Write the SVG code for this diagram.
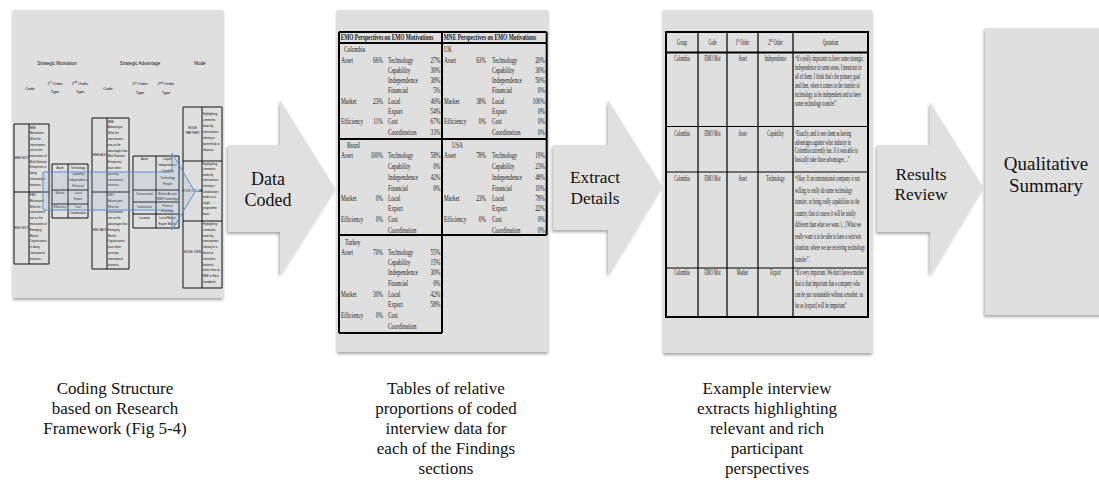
<svg xmlns="http://www.w3.org/2000/svg" width="1099" height="481" viewBox="0 0 1099 481">
  <defs>
    <filter id="shadow" x="-10%" y="-10%" width="120%" height="125%">
      <feDropShadow dx="0" dy="2" stdDeviation="1.4" flood-color="#000" flood-opacity="0.35"/>
    </filter>
    <filter id="shadowL" x="-10%" y="-10%" width="120%" height="125%">
      <feDropShadow dx="-1" dy="2" stdDeviation="1.4" flood-color="#000" flood-opacity="0.35"/>
    </filter>
  </defs>
  <style>
    .panel { fill: #dfdfdf; filter: url(#shadow); }
    .arrow { fill: #e0e0e0; filter: url(#shadowL); }
    .big { font-family: "Liberation Serif", "Times New Roman", serif; fill: #111; text-anchor: middle; }
    .cap { font-family: "Liberation Serif", "Times New Roman", serif; font-size: 17px; fill: #111; text-anchor: middle; }
    .sans { font-family: "Liberation Sans", Arial, sans-serif; fill: #111; }
    .h1 { font-size: 4.5px; text-anchor: middle; }
    .h2 { font-size: 4px; text-anchor: middle; }
    .c { font-size: 2.9px; text-anchor: middle; }
    .p { font-size: 2.75px; }
    .grid1 { fill: none; stroke: #111; stroke-width: 1; }
    .serif { font-family: "Liberation Serif", "Times New Roman", serif; fill: #1a1a1a; }
    .t2 { font-size: 8.3px; }
    .e { text-anchor: end; }
    .m { text-anchor: middle; }
    .b { font-weight: bold; }
    .t3 { font-size: 8.5px; }
    .thick { fill: none; stroke: #000; stroke-width: 2; }
    .thin { fill: none; stroke: #000; stroke-width: 1.2; }
  </style>

  <!-- block arrows between the stages -->
  <g id="connectors">
    <polygon class="arrow" points="228,145 280,145 280,100 335,188 280,275 280,232 228,232"/>
    <polygon class="arrow" points="553,145 608,145 608,100 662,186 608,275 608,230 553,230"/>
    <polygon class="arrow" points="877,145 930,145 930,102 983,187 930,275 930,232 877,232"/>
    <text class="big" font-size="18" x="268" y="185">Data</text>
    <text class="big" font-size="18" x="268" y="206">Coded</text>
    <text class="big" font-size="17.3" x="595" y="183">Extract</text>
    <text class="big" font-size="17.3" x="595" y="204">Details</text>
    <text class="big" font-size="17.3" x="921" y="180">Results</text>
    <text class="big" font-size="17.3" x="921" y="200">Review</text>
  </g>

  <!-- stage 1: coding structure -->
  <g id="coding-structure">
    <rect class="panel" x="13" y="10" width="210" height="288"/>
    <g class="sans">
      <text class="h1" x="57" y="64.5">Strategic Motivation</text>
      <text class="h1" x="140" y="64.5">Strategic Advantage</text>
      <text class="h1" x="200" y="64.5">Mode</text>
      <text class="h2" x="30" y="90">Code</text>
      <text class="h2" x="55" y="84.5">1<tspan font-size="2.6" dy="-1.2">st</tspan><tspan dy="1.2"> Order</tspan></text>
      <text class="h2" x="55" y="93">Type</text>
      <text class="h2" x="80" y="84.5">2<tspan font-size="2.6" dy="-1.2">nd</tspan><tspan dy="1.2"> Order</tspan></text>
      <text class="h2" x="80" y="93">Type</text>
      <text class="h2" x="108" y="90">Code</text>
      <text class="h2" x="140" y="85">1<tspan font-size="2.6" dy="-1.2">st</tspan><tspan dy="1.2"> Order</tspan></text>
      <text class="h2" x="140" y="94">Type</text>
      <text class="h2" x="166" y="85">2<tspan font-size="2.6" dy="-1.2">nd</tspan><tspan dy="1.2"> Order</tspan></text>
      <text class="h2" x="166" y="94">Type</text>
    </g>

    <!-- motivation codes -->
    <path class="grid1" d="M14,124 H49 V264 H14 Z M29,124 V264 M14,192 H49"/>
    <g class="sans">
      <text class="c" x="21.5" y="159">MNE MOT</text>
      <text class="c" x="21.5" y="229">EMO MOT</text>
      <text class="p">
        <tspan x="29.8" y="128.5">MNE</tspan><tspan x="29.8" y="134.2">Motivations:</tspan><tspan x="29.8" y="139.9">What the</tspan><tspan x="29.8" y="145.6">interviewees</tspan><tspan x="29.8" y="151.3">see as the</tspan><tspan x="29.8" y="157">motivations of</tspan><tspan x="29.8" y="162.7">Multi-National</tspan><tspan x="29.8" y="168.4">Enterprises in</tspan><tspan x="29.8" y="174.1">doing</tspan><tspan x="29.8" y="179.8">international</tspan><tspan x="29.8" y="185.5">business.</tspan>
      </text>
      <text class="p">
        <tspan x="29.8" y="196">EMO</tspan><tspan x="29.8" y="201.8">Motivations:</tspan><tspan x="29.8" y="207.6">What the</tspan><tspan x="29.8" y="213.4">interviewees</tspan><tspan x="29.8" y="219.2">see as the</tspan><tspan x="29.8" y="225">motivations of</tspan><tspan x="29.8" y="230.8">Emerging</tspan><tspan x="29.8" y="236.6">Market</tspan><tspan x="29.8" y="242.4">Organisations</tspan><tspan x="29.8" y="248.2">in doing</tspan><tspan x="29.8" y="254">international</tspan><tspan x="29.8" y="259.8">business.</tspan>
      </text>
    </g>

    <!-- motivation types -->
    <path class="grid1" d="M52,164 H88 V218 H52 Z M68,164 V218 M52,190 H88 M52,204 H88"/>
    <g class="sans">
      <text class="c" x="60" y="169">Asset</text>
      <text class="c" x="60" y="194">Market</text>
      <text class="c" x="60" y="208">Efficiency</text>
      <text class="c" x="78" y="169">Technology</text>
      <text class="c" x="78" y="174.5">Capability</text>
      <text class="c" x="78" y="180.5">Independence</text>
      <text class="c" x="78" y="186.5">Financial</text>
      <text class="c" x="78" y="194">Local</text>
      <text class="c" x="78" y="200">Export</text>
      <text class="c" x="78" y="208">Cost</text>
      <text class="c" x="78" y="214">Coordination</text>
    </g>

    <!-- advantage codes -->
    <path class="grid1" d="M92,118 H129 V269 H92 Z M107,118 V269 M92,192 H129"/>
    <g class="sans">
      <text class="c" x="99.5" y="156">MNE ADV</text>
      <text class="c" x="99.5" y="231">EMO ADV</text>
      <text class="p">
        <tspan x="107.8" y="122.5">MNE</tspan><tspan x="107.8" y="128.3">Advantages:</tspan><tspan x="107.8" y="134.1">What the</tspan><tspan x="107.8" y="139.9">interviewees</tspan><tspan x="107.8" y="145.7">see as the</tspan><tspan x="107.8" y="151.5">advantages that</tspan><tspan x="107.8" y="157.3">Multi-National</tspan><tspan x="107.8" y="163.1">Enterprises</tspan><tspan x="107.8" y="168.9">have when</tspan><tspan x="107.8" y="174.7">pursuing</tspan><tspan x="107.8" y="180.5">international</tspan><tspan x="107.8" y="186.3">business.</tspan>
      </text>
      <text class="p">
        <tspan x="107.8" y="196">EMO</tspan><tspan x="107.8" y="201.8">Advantages:</tspan><tspan x="107.8" y="207.6">What the</tspan><tspan x="107.8" y="213.4">interviewees</tspan><tspan x="107.8" y="219.2">see as the</tspan><tspan x="107.8" y="225">advantages that</tspan><tspan x="107.8" y="230.8">Emerging</tspan><tspan x="107.8" y="236.6">Market</tspan><tspan x="107.8" y="242.4">Organisations</tspan><tspan x="107.8" y="248.2">have when</tspan><tspan x="107.8" y="254">pursuing</tspan><tspan x="107.8" y="259.8">international</tspan><tspan x="107.8" y="265.6">business.</tspan>
      </text>
    </g>

    <!-- advantage types -->
    <path class="grid1" d="M133,156 H179 V228 H133 Z M156,156 V228 M133,190 H179 M133,202 H179 M133,214 H179"/>
    <g class="sans">
      <text class="c" x="144.5" y="160">Asset</text>
      <text class="c" x="144.5" y="195">Transactional</text>
      <text class="c" x="144.5" y="207.5">Institutional</text>
      <text class="c" x="144.5" y="218.5">Location</text>
      <text class="c" x="167.5" y="160">Capital</text>
      <text class="c" x="167.5" y="166">Independence</text>
      <text class="c" x="167.5" y="172">Capability</text>
      <text class="c" x="167.5" y="178.5">Technology</text>
      <text class="c" x="167.5" y="185">People</text>
      <text class="c" x="167.5" y="194.5">Market Access</text>
      <text class="c" x="167.5" y="200">MNE Knowledge</text>
      <text class="c" x="167.5" y="206.5">Political</text>
      <text class="c" x="167.5" y="211.8">Economic</text>
      <text class="c" x="167.5" y="218.5">Local Market</text>
      <text class="c" x="167.5" y="225">Export Market</text>
    </g>

    <!-- mode -->
    <path class="grid1" d="M183,107 H222 V288 H183 Z M202,107 V288 M183,161 H222 M183,221 H222"/>
    <g class="sans">
      <text class="c" x="192.5" y="129">MODE</text>
      <text class="c" x="192.5" y="133.5">PARTNER</text>
      <text class="c" x="192.5" y="192">MODE COLLAB</text>
      <text class="c" x="192.5" y="253">MODE OWN</text>
      <text class="p">
        <tspan x="202.8" y="115">Highlighting</tspan><tspan x="202.8" y="121">comments</tspan><tspan x="202.8" y="127">made by</tspan><tspan x="202.8" y="133">interviewees</tspan><tspan x="202.8" y="139">relating to</tspan><tspan x="202.8" y="145">partnership or</tspan><tspan x="202.8" y="151">alliances.</tspan>
      </text>
      <text class="p">
        <tspan x="202.8" y="164.5">Highlighting</tspan><tspan x="202.8" y="170.1">comments</tspan><tspan x="202.8" y="175.7">made by</tspan><tspan x="202.8" y="181.3">interviewees</tspan><tspan x="202.8" y="186.9">relating to</tspan><tspan x="202.8" y="192.5">collaboration</tspan><tspan x="202.8" y="198.1">made on a</tspan><tspan x="202.8" y="203.7">single</tspan><tspan x="202.8" y="209.3">programme</tspan><tspan x="202.8" y="214.9">basis.</tspan>
      </text>
      <text class="p">
        <tspan x="202.8" y="225">Highlighting</tspan><tspan x="202.8" y="230.8">comments</tspan><tspan x="202.8" y="236.6">made by</tspan><tspan x="202.8" y="242.4">interviewees</tspan><tspan x="202.8" y="248.2">relating to a</tspan><tspan x="202.8" y="254">desire to</tspan><tspan x="202.8" y="259.8">internalise</tspan><tspan x="202.8" y="265.6">business</tspan><tspan x="202.8" y="271.4">either from an</tspan><tspan x="202.8" y="277.2">MNE or Host</tspan><tspan x="202.8" y="283">standpoint.</tspan>
      </text>
    </g>

    <!-- overlaid flow arrow across the framework -->
    <polygon points="43,172 172,172 172,153 195,192 172,230 172,210 43,210" fill="#9fb4d4" fill-opacity="0.2" stroke="#5b8fd0" stroke-width="1"/>
  </g>

  <!-- stage 2: proportion tables -->
  <g id="proportion-tables">
    <rect class="panel" x="337" y="10" width="211" height="342"/>
    <path class="thick" d="M339,32 V333 M546.7,32 V235 M442,32 V333 M339,32 H546.7 M339,43 H546.7 M339,139 H546.7 M339,235 H546.7 M339,333 H442"/>
    <g class="serif t2" transform="matrix(0.65 0 0 1 338 0)">
      <text class="m b" x="75.4" y="40.5">EMO Perspectives on EMO Motivations</text>
      <text class="m b" x="233.8" y="40.5">MNE Perspectives on EMO Motivations</text>

      <!-- Colombia -->
      <text x="9.2" y="52.5">Colombia</text>
      <text x="4.6" y="63.5">Asset</text><text class="e" x="69.2" y="63.5">66%</text><text x="76.9" y="63.5">Technology</text><text class="e" x="157.7" y="63.5">27%</text>
      <text x="76.9" y="73.5">Capability</text><text class="e" x="157.7" y="73.5">30%</text>
      <text x="76.9" y="83.5">Independence</text><text class="e" x="157.7" y="83.5">38%</text>
      <text x="76.9" y="93.5">Financial</text><text class="e" x="157.7" y="93.5">5%</text>
      <text x="4.6" y="104.5">Market</text><text class="e" x="69.2" y="104.5">23%</text><text x="76.9" y="104.5">Local</text><text class="e" x="157.7" y="104.5">46%</text>
      <text x="76.9" y="114.5">Export</text><text class="e" x="157.7" y="114.5">54%</text>
      <text x="4.6" y="124.5">Efficiency</text><text class="e" x="69.2" y="124.5">11%</text><text x="76.9" y="124.5">Cost</text><text class="e" x="157.7" y="124.5">67%</text>
      <text x="76.9" y="135.5">Coordination</text><text class="e" x="157.7" y="135.5">33%</text>

      <!-- UK -->
      <text x="163.1" y="52.5">UK</text>
      <text x="163.1" y="63.5">Asset</text><text class="e" x="227.7" y="63.5">63%</text><text x="236.9" y="63.5">Technology</text><text class="e" x="318.5" y="63.5">20%</text>
      <text x="236.9" y="73.5">Capability</text><text class="e" x="318.5" y="73.5">30%</text>
      <text x="236.9" y="83.5">Independence</text><text class="e" x="318.5" y="83.5">50%</text>
      <text x="236.9" y="93.5">Financial</text><text class="e" x="318.5" y="93.5">0%</text>
      <text x="163.1" y="104.5">Market</text><text class="e" x="227.7" y="104.5">38%</text><text x="236.9" y="104.5">Local</text><text class="e" x="318.5" y="104.5">100%</text>
      <text x="236.9" y="114.5">Export</text><text class="e" x="318.5" y="114.5">0%</text>
      <text x="163.1" y="124.5">Efficiency</text><text class="e" x="227.7" y="124.5">0%</text><text x="236.9" y="124.5">Cost</text><text class="e" x="318.5" y="124.5">0%</text>
      <text x="236.9" y="135.5">Coordination</text><text class="e" x="318.5" y="135.5">0%</text>

      <!-- Brazil -->
      <text x="13.8" y="148">Brazil</text>
      <text x="4.6" y="158">Asset</text><text class="e" x="69.2" y="158">100%</text><text x="76.9" y="158">Technology</text><text class="e" x="157.7" y="158">58%</text>
      <text x="76.9" y="169">Capability</text><text class="e" x="157.7" y="169">0%</text>
      <text x="76.9" y="180">Independence</text><text class="e" x="157.7" y="180">42%</text>
      <text x="76.9" y="191">Financial</text><text class="e" x="157.7" y="191">0%</text>
      <text x="4.6" y="201.5">Market</text><text class="e" x="69.2" y="201.5">0%</text><text x="76.9" y="201.5">Local</text>
      <text x="76.9" y="211.5">Export</text>
      <text x="4.6" y="222">Efficiency</text><text class="e" x="69.2" y="222">0%</text><text x="76.9" y="222">Cost</text>
      <text x="76.9" y="233">Coordination</text>

      <!-- USA -->
      <text x="175.4" y="148">USA</text>
      <text x="163.1" y="158">Asset</text><text class="e" x="227.7" y="158">78%</text><text x="236.9" y="158">Technology</text><text class="e" x="318.5" y="158">19%</text>
      <text x="236.9" y="169">Capability</text><text class="e" x="318.5" y="169">23%</text>
      <text x="236.9" y="180">Independence</text><text class="e" x="318.5" y="180">48%</text>
      <text x="236.9" y="191">Financial</text><text class="e" x="318.5" y="191">10%</text>
      <text x="163.1" y="201.5">Market</text><text class="e" x="227.7" y="201.5">23%</text><text x="236.9" y="201.5">Local</text><text class="e" x="318.5" y="201.5">78%</text>
      <text x="236.9" y="211.5">Export</text><text class="e" x="318.5" y="211.5">22%</text>
      <text x="163.1" y="222">Efficiency</text><text class="e" x="227.7" y="222">0%</text><text x="236.9" y="222">Cost</text><text class="e" x="318.5" y="222">0%</text>
      <text x="236.9" y="233">Coordination</text><text class="e" x="318.5" y="233">0%</text>

      <!-- Turkey -->
      <text x="10.8" y="245.5">Turkey</text>
      <text x="4.6" y="255.5">Asset</text><text class="e" x="69.2" y="255.5">70%</text><text x="76.9" y="255.5">Technology</text><text class="e" x="157.7" y="255.5">55%</text>
      <text x="76.9" y="265.5">Capability</text><text class="e" x="157.7" y="265.5">15%</text>
      <text x="76.9" y="275.5">Independence</text><text class="e" x="157.7" y="275.5">30%</text>
      <text x="76.9" y="286.5">Financial</text><text class="e" x="157.7" y="286.5">0%</text>
      <text x="4.6" y="297.5">Market</text><text class="e" x="69.2" y="297.5">30%</text><text x="76.9" y="297.5">Local</text><text class="e" x="157.7" y="297.5">42%</text>
      <text x="76.9" y="307.5">Export</text><text class="e" x="157.7" y="307.5">58%</text>
      <text x="4.6" y="318.5">Efficiency</text><text class="e" x="69.2" y="318.5">0%</text><text x="76.9" y="318.5">Cost</text>
      <text x="76.9" y="329.5">Coordination</text>
    </g>
  </g>

  <!-- stage 3: interview extracts -->
  <g id="interview-extracts">
    <rect class="panel" x="663" y="10" width="209" height="343"/>
    <path class="thin" d="M698,32 V317 M727,32 V317 M758,32 V317 M793,32 V317"/>
    <path class="thin" stroke-width="1.6" d="M666,126.5 H868 M666,172 H868 M666,268 H868"/>
    <path class="thick" d="M666,32 H868 V317 H666 Z M666,52.5 H868"/>
    <g class="serif t3" transform="matrix(0.46 0 0 1 666 0)">
      <text class="m" x="34.8" y="45.5">Group</text>
      <text class="m" x="101.1" y="45.5">Code</text>
      <text class="m" x="166.3" y="45.5">1<tspan font-size="5.5" dy="-3">st</tspan><tspan dy="3"> Order</tspan></text>
      <text class="m" x="238" y="45.5">2<tspan font-size="5.5" dy="-3">nd</tspan><tspan dy="3"> Order</tspan></text>
      <text class="m" x="357.6" y="45.5">Quotation</text>

      <text class="m" x="34.8" y="61.5">Colombia</text>
      <text class="m" x="101.1" y="61.5">EMO Mot</text>
      <text class="m" x="166.3" y="61.5">Asset</text>
      <text class="m" x="238" y="61.5">Independence</text>
      <text>
        <tspan x="280.4" y="61.5">“It's really important to have some strategic</tspan>
        <tspan x="280.4" y="70.5">independence in some areas, I mean not in</tspan>
        <tspan x="280.4" y="79.5">all of them. I think that's the primary goal</tspan>
        <tspan x="280.4" y="88.5">and then, when it comes to the transfer of</tspan>
        <tspan x="280.4" y="97.5">technology, to be independent and to have</tspan>
        <tspan x="280.4" y="106.5">some technology transfer”.</tspan>
      </text>

      <text class="m" x="34.8" y="136.5">Colombia</text>
      <text class="m" x="101.1" y="136.5">EMO Mot</text>
      <text class="m" x="166.3" y="136.5">Asset</text>
      <text class="m" x="238" y="136.5">Capability</text>
      <text>
        <tspan x="280.4" y="136.5">“Exactly, and it sees them as having</tspan>
        <tspan x="280.4" y="145">advantages against what industry in</tspan>
        <tspan x="280.4" y="153.5">Colombia currently has. If it was able to</tspan>
        <tspan x="280.4" y="162">basically take those advantages ...”</tspan>
      </text>

      <text class="m" x="34.8" y="181.5">Colombia</text>
      <text class="m" x="101.1" y="181.5">EMO Mot</text>
      <text class="m" x="166.3" y="181.5">Asset</text>
      <text class="m" x="238" y="181.5">Technology</text>
      <text>
        <tspan x="280.4" y="181.5">“Okay. If an international company is not</tspan>
        <tspan x="280.4" y="193">willing to really do some technology</tspan>
        <tspan x="280.4" y="204.5">transfer, or bring really capabilities to the</tspan>
        <tspan x="280.4" y="216">country, that of course it will be totally</tspan>
        <tspan x="280.4" y="227.5">different than what we want. [...] What we</tspan>
        <tspan x="280.4" y="239">really want is to be able to have a win/win</tspan>
        <tspan x="280.4" y="250.5">situation, where we are receiving technology</tspan>
        <tspan x="280.4" y="262">transfer”.</tspan>
      </text>

      <text class="m" x="34.8" y="275.5">Colombia</text>
      <text class="m" x="101.1" y="275.5">EMO Mot</text>
      <text class="m" x="166.3" y="275.5">Market</text>
      <text class="m" x="238" y="275.5">Export</text>
      <text>
        <tspan x="280.4" y="275.5">“It's very important. We don't have a market</tspan>
        <tspan x="280.4" y="286.5">that is that important that a company who</tspan>
        <tspan x="280.4" y="297.5">can be just sustainable without a market, so</tspan>
        <tspan x="280.4" y="308">far as [export] will be important”</tspan>
      </text>
    </g>
  </g>

  <!-- final stage -->
  <g id="qualitative-summary">
    <rect x="985" y="28" width="130" height="287" fill="#dfdfdf" filter="url(#shadowL)"/>
    <text class="big" font-size="19" x="1046" y="170">Qualitative</text>
    <text class="big" font-size="19" x="1046" y="191.5">Summary</text>
  </g>

  <!-- captions under each stage -->
  <g id="captions">
    <text class="cap"><tspan x="115" y="394">Coding Structure</tspan><tspan x="115" y="414">based on Research</tspan><tspan x="115" y="434">Framework (Fig 5-4)</tspan></text>
    <text class="cap"><tspan x="446" y="394">Tables of relative</tspan><tspan x="446" y="414">proportions of coded</tspan><tspan x="446" y="434">interview data for</tspan><tspan x="446" y="454">each of the Findings</tspan><tspan x="446" y="474">sections</tspan></text>
    <text class="cap"><tspan x="767" y="394">Example interview</tspan><tspan x="767" y="414">extracts highlighting</tspan><tspan x="767" y="434">relevant and rich</tspan><tspan x="767" y="454">participant</tspan><tspan x="767" y="474">perspectives</tspan></text>
  </g>
</svg>
